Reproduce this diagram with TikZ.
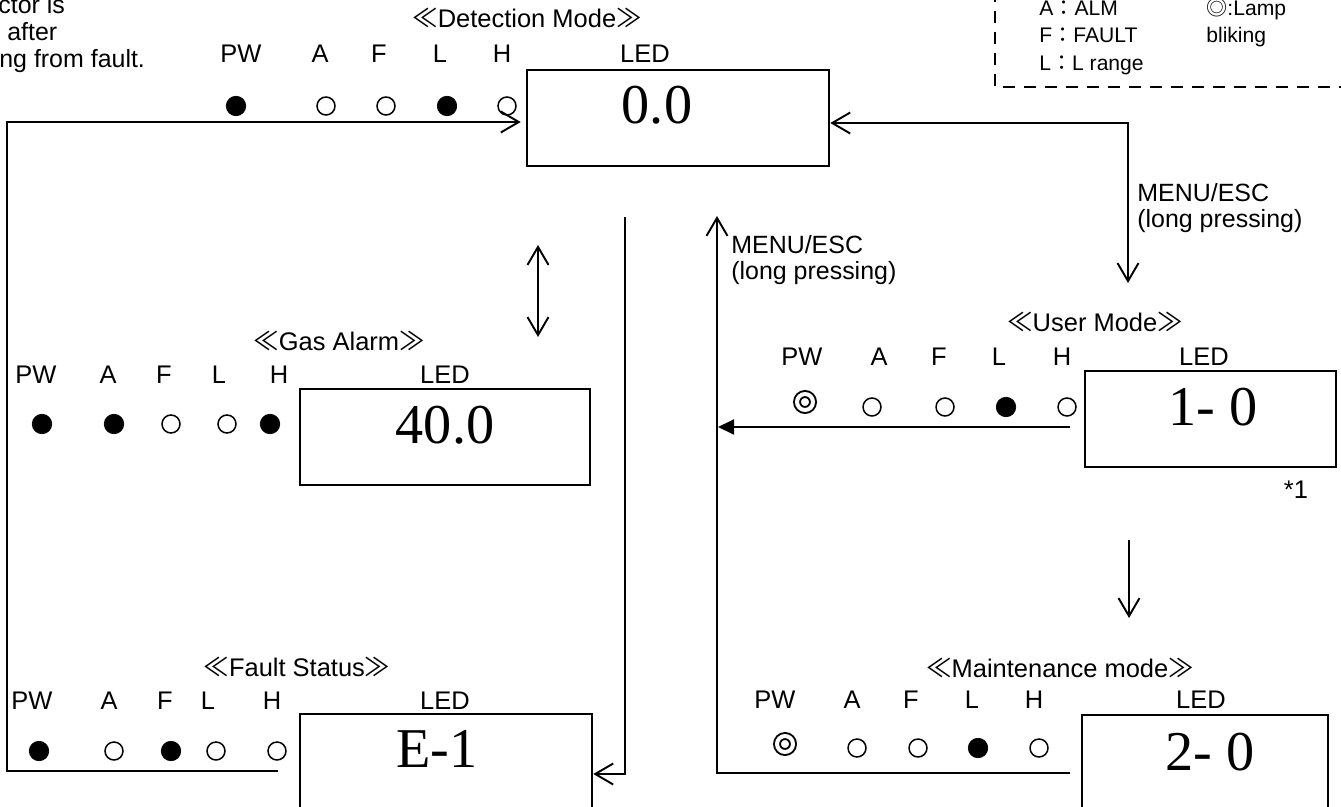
\documentclass[tikz,border=0pt]{standalone}
\usepackage{fontspec}
\setmainfont{Liberation Sans}
\newfontfamily\cjk{Noto Sans CJK JP}
\newfontfamily\lcdfont{Liberation Serif}
\usetikzlibrary{arrows.meta}

\begin{document}
\begin{tikzpicture}[
    x=0.02cm, y=-0.02cm,
    >={Straight Barb[length=0.36cm, width=0.42cm]},
    lcd/.style={draw, line width=1.5pt, inner sep=0pt, minimum height=1.92cm},
    value/.style={font=\lcdfont\fontsize{32}{36}\selectfont, inner sep=0pt},
    title/.style={font=\fontsize{14.5}{16}\selectfont, anchor=base, inner sep=0pt},
    lbl/.style={font=\fontsize{14.5}{16}\selectfont, anchor=base, inner sep=0pt},
    note/.style={font=\fontsize{14.2}{14.8}\selectfont, align=left, inner sep=0pt},
    legend/.style={font=\fontsize{12}{14}\selectfont, anchor=base west, inner sep=0pt},
    ledon/.style={circle, draw, fill, line width=0.4pt, inner sep=0pt, minimum size=0.39cm},
    ledoff/.style={circle, draw, line width=0.85pt, inner sep=0pt, minimum size=0.36cm},
    ledblink/.style={circle, draw, line width=1.1pt, double, double distance=0.08cm, inner sep=0pt, minimum size=0.32cm},
    arrow/.style={line width=1.1pt},
    fillarrow/.style={arrow, -{Triangle[length=0.32cm, width=0.3cm]}}
]
\useasboundingbox (0,0) rectangle (1341,807);
\clip (0,0) rectangle (1341,807);

% Note (cut off at the left)
\node[note, anchor=base west] (notea) at (-2,14) {ctor is};
\node[note, anchor=base west] (noteb) at (7,41) {after};
\node[note, anchor=base west] (notec) at (-1,68) {ng from fault.};

% Legend
\draw[line width=1.5pt, dash pattern=on 0.24cm off 0.18cm] (995,-10) -- (995,87) -- (1350,87);
\node[legend] (legalm) at (1039,16) {A{\cjk ：}ALM};
\node[legend] (legfault) at (1039,43) {F{\cjk ：}FAULT};
\node[legend] (legrange) at (1039,71) {L{\cjk ：}L range};
\node[legend] (legblink) at (1206,16) {{\cjk ◎}:Lamp};
\node[legend] (legbliking) at (1206,43) {bliking};

% Detection Mode
\node[title] (dettitle) at (527,28) {{\cjk ≪}Detection Mode{\cjk ≫}};
\node[lbl] (detpw) at (241,63) {PW}; \node[lbl] (deta) at (320,63) {A}; \node[lbl] (detf) at (379,63) {F};
\node[lbl] (detl) at (440,63) {L}; \node[lbl] (deth) at (502,63) {H}; \node[lbl] (detled) at (645,63) {LED};
\node[ledon] (detpwled) at (236,106) {}; \node[ledoff] (detaled) at (326,106) {}; \node[ledoff] (detfled) at (386,106) {};
\node[ledon] (detlled) at (447,106) {}; \node[ledoff] (dethled) at (507,106) {};
\node[lcd, minimum width=6.04cm] (det) at (678,118) {};
\node[value] (detval) at (657,105) {0.0};

% Gas Alarm
\node[title] (gastitle) at (339,350) {{\cjk ≪}Gas Alarm{\cjk ≫}};
\node[lbl] (gaspw) at (36,383) {PW}; \node[lbl] (gasa) at (108,383) {A}; \node[lbl] (gasf) at (164,383) {F};
\node[lbl] (gasl) at (219,383) {L}; \node[lbl] (gash) at (279,383) {H}; \node[lbl] (gasled) at (445,383) {LED};
\node[ledon] (gaspwled) at (42,424) {}; \node[ledon] (gasaled) at (114,424) {}; \node[ledoff] (gasfled) at (171,424) {};
\node[ledoff] (gaslled) at (227,424) {}; \node[ledon] (gashled) at (270,424) {};
\node[lcd, minimum width=5.8cm] (gas) at (445,437) {};
\node[value] (gasval) at (445,425) {40.0};

% Fault Status
\node[title] (flttitle) at (297,676) {{\cjk ≪}Fault Status{\cjk ≫}};
\node[lbl] (fltpw) at (32,709) {PW}; \node[lbl] (flta) at (109,709) {A}; \node[lbl] (fltf) at (165,709) {F};
\node[lbl] (fltl) at (208,709) {L}; \node[lbl] (flth) at (272,709) {H}; \node[lbl] (fltled) at (445,709) {LED};
\node[ledon] (fltpwled) at (39,751) {}; \node[ledoff] (fltaled) at (114,751) {}; \node[ledon] (fltfled) at (171,751) {};
\node[ledoff] (fltlled) at (216,751) {}; \node[ledoff] (flthled) at (277,751) {};
\node[lcd, minimum width=5.84cm] (fault) at (446,762) {};
\node[value] (faultval) at (437,749) {E-1};

% User Mode
\node[title] (usrtitle) at (1095,332) {{\cjk ≪}User Mode{\cjk ≫}};
\node[lbl] (usrpw) at (802,365) {PW}; \node[lbl] (usra) at (879,365) {A}; \node[lbl] (usrf) at (939,365) {F};
\node[lbl] (usrl) at (999,365) {L}; \node[lbl] (usrh) at (1062,365) {H}; \node[lbl] (usrled) at (1204,365) {LED};
\node[ledblink] (usrpwled) at (805,402) {}; \node[ledoff] (usraled) at (872,407) {}; \node[ledoff] (usrfled) at (945,407) {};
\node[ledon] (usrlled) at (1006,407) {}; \node[ledoff] (usrhled) at (1067,407) {};
\node[lcd, minimum width=5.02cm] (user) at (1210.5,419) {};
\node[value] (userval) at (1213,407) {1- 0};
\node[lbl] (usrref) at (1296,498) {*1};

% Maintenance mode
\node[title] (mnttitle) at (1060,677) {{\cjk ≪}Maintenance mode{\cjk ≫}};
\node[lbl] (mntpw) at (775,708) {PW}; \node[lbl] (mnta) at (852,708) {A}; \node[lbl] (mntf) at (911,708) {F};
\node[lbl] (mntl) at (972,708) {L}; \node[lbl] (mnth) at (1034,708) {H}; \node[lbl] (mntled) at (1201,708) {LED};
\node[ledblink] (mntpwled) at (785,744) {}; \node[ledoff] (mntaled) at (857,748) {}; \node[ledoff] (mntfled) at (918,748) {};
\node[ledon] (mntlled) at (978,748) {}; \node[ledoff] (mnthled) at (1039,748) {};
\node[lcd, minimum width=4.92cm] (maint) at (1205,763) {};
\node[value] (maintval) at (1210,752) {2- 0};

% Connector ends
\coordinate (fltend) at (278,771);
\coordinate (loopl) at (7,122);
\coordinate (menur) at (1128,123);
\coordinate (usrtop) at (1128,283);
\coordinate (gasup) at (538,245);
\coordinate (gasdn) at (538,337);
\coordinate (midtop) at (625,217);
\coordinate (fltin) at (625,774);
\coordinate (mntend) at (1070,773);
\coordinate (upl) at (717,216);
\coordinate (usrend) at (1070,427);
\coordinate (usrtip) at (718,427);
\coordinate (mntup) at (1129,540);
\coordinate (mntdn) at (1129,618);

% Arrows
\draw[arrow, ->, shorten >=0.1cm] (fltend) -| (loopl) -- (loopl -| det.west);
\draw[arrow, <->] (det.east |- menur) -- (menur) -- (usrtop);
\draw[arrow, <->] (gasup) -- (gasdn);
\draw[arrow, ->] (midtop) -- (fltin) -- (fltin -| fault.east);
\draw[arrow, ->] (mntend) -| (upl);
\draw[fillarrow] (usrend) -- (usrtip);
\draw[arrow, ->] (mntup) -- (mntdn);

% Key labels
\node[note, anchor=north west] (menuright) at (1137,183) {MENU/ESC\\(long pressing)};
\node[note, anchor=north west] (menuleft) at (731,235) {MENU/ESC\\(long pressing)};

\end{tikzpicture}
\end{document}
